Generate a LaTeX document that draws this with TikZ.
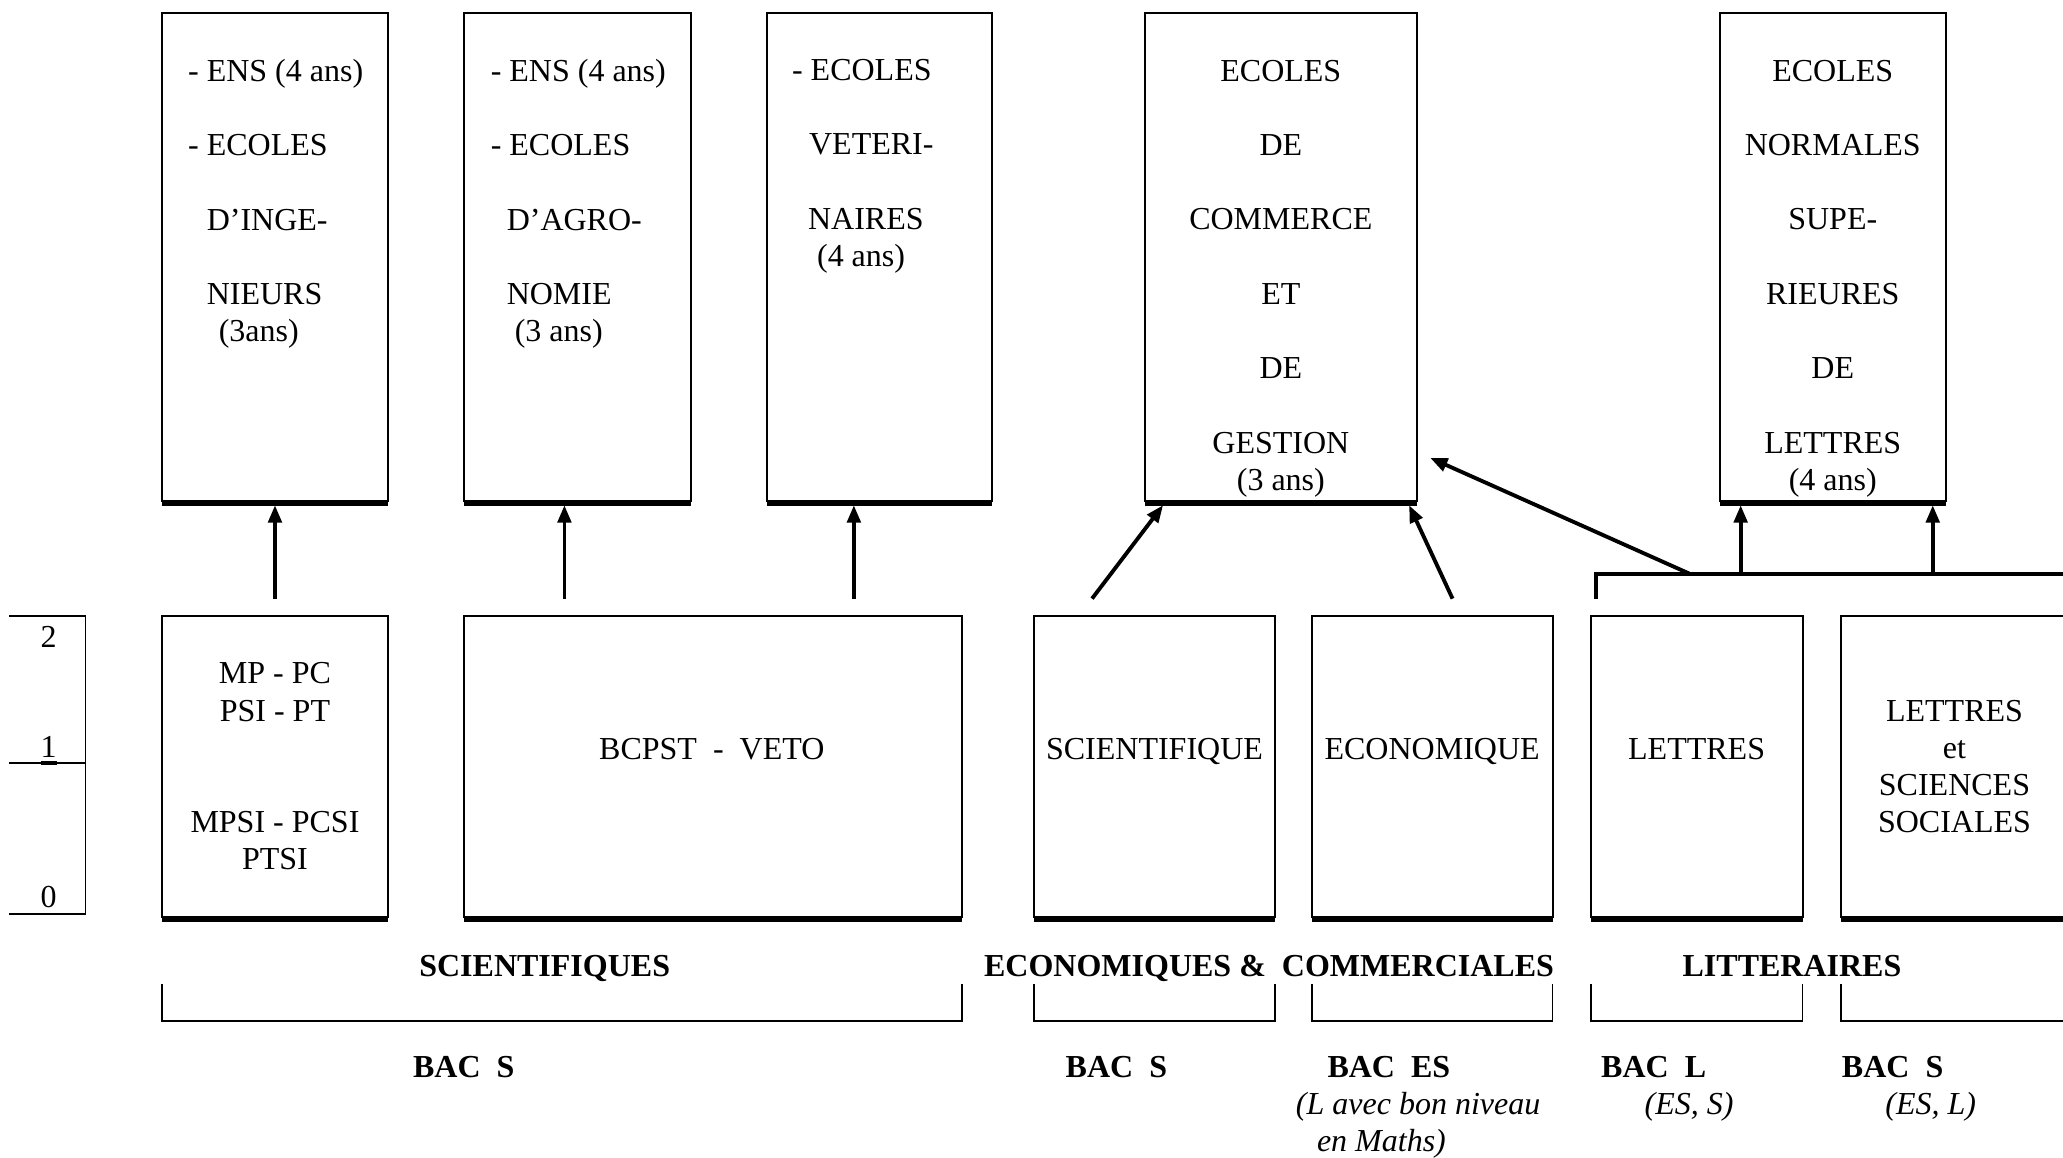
\documentclass[tikz,border=0pt]{standalone}
\usepackage{fontspec}
\setmainfont{Liberation Serif}
\usetikzlibrary{arrows.meta,calc}
\def\UU{0.4934pt}
\begin{document}
\begin{tikzpicture}[x=0.4934pt,y=-0.4934pt,
  every node/.style={font=\fontsize{12}{13.95}\selectfont, inner sep=0pt, outer sep=0pt},
  box/.style={draw, line width=0.75pt},
  thickbot/.style={line width=2.3pt},
  arr/.style={line width=1.45pt, -{Triangle[length=6.5pt,width=5pt]}},
  conn/.style={line width=1.45pt},
  brk/.style={line width=0.7pt},
  scl/.style={line width=0.7pt},
  cat/.style={font=\fontsize{12}{13.95}\selectfont\bfseries, anchor=base},
  bac/.style={font=\fontsize{12}{13.95}\selectfont\bfseries, anchor=base west},
  ital/.style={font=\fontsize{12}{13.95}\selectfont\itshape, anchor=base west},
  txt/.style={anchor=base}]
\useasboundingbox (0,0) rectangle (1568,880);

% ---- top boxes
\node[box, minimum width=172*\UU, minimum height=371*\UU] (t1) at (209,195.5) {};
\node[box, minimum width=172*\UU, minimum height=371*\UU] (t2) at (439,195.5) {};
\node[box, minimum width=171*\UU, minimum height=371*\UU] (t3) at (668.5,195.5) {};
\node[box, minimum width=207*\UU, minimum height=371*\UU] (t4) at (973.5,195.5) {};
\node[box, minimum width=172*\UU, minimum height=371*\UU] (t5) at (1393,195.5) {};

\node[anchor=north west, align=left] (t1txt) at (143,45)
  {- ENS (4 ans)\\[13.95pt]- ECOLES\\[13.95pt]\hspace*{7pt}D’INGE-\\[13.95pt]\hspace*{7pt}NIEURS\\\hspace*{11.5pt}(3ans)};
\node[anchor=north west, align=left] (t2txt) at (373,45)
  {- ENS (4 ans)\\[13.95pt]- ECOLES\\[13.95pt]\hspace*{6pt}D’AGRO-\\[13.95pt]\hspace*{6pt}NOMIE\\\hspace*{9pt}(3 ans)};
\node[anchor=north west, align=left] (t3txt) at (602,45)
  {- ECOLES\\[13.95pt]\hspace*{6.4pt}VETERI-\\[13.95pt]\hspace*{6pt}NAIRES\\\hspace*{9.4pt}(4 ans)};
\node[anchor=north, align=center] (t4txt) at (973.5,45.5)
  {ECOLES\\[13.95pt]DE\\[13.95pt]COMMERCE\\[13.95pt]ET\\[13.95pt]DE\\[13.95pt]GESTION\\(3 ans)};
\node[anchor=north, align=center] (t5txt) at (1393,45.5)
  {ECOLES\\[13.95pt]NORMALES\\[13.95pt]SUPE-\\[13.95pt]RIEURES\\[13.95pt]DE\\[13.95pt]LETTRES\\(4 ans)};

% ---- bottom boxes
\node[box, minimum width=172*\UU, minimum height=229*\UU, align=center] (ba) at (209,582.5)
  {MP - PC\\PSI - PT\\[27.9pt]MPSI - PCSI\\PTSI};
\node[box, minimum width=378*\UU, minimum height=229*\UU] (bb) at (542,582.5) {};
\node[box, minimum width=183*\UU, minimum height=229*\UU] (bc) at (877.5,582.5) {};
\node[box, minimum width=183*\UU, minimum height=229*\UU] (bd) at (1088.5,582.5) {};
\node[box, minimum width=161*\UU, minimum height=229*\UU] (be) at (1289.5,582.5) {};
\node[box, minimum width=173*\UU, minimum height=229*\UU, align=center] (bf) at (1485.5,582.5)
  {LETTRES\\et\\SCIENCES\\SOCIALES};

\node[txt] (bbtxt) at (541,577) {BCPST\ \ -\ \ VETO};
\node[txt] (bctxt) at (877.5,577) {SCIENTIFIQUE};
\node[txt] (bdtxt) at (1088.5,577) {ECONOMIQUE};
\node[txt] (betxt) at (1289.5,577) {LETTRES};

\foreach \n in {t1,t2,t3,t4,t5,ba,bb,bc,bd,be,bf}
  \draw[thickbot] ([yshift=-0.8pt]\n.south west) -- ([yshift=-0.8pt]\n.south east);

% ---- scale
\draw[scl] (7,468) -- (65,468) -- (65,695);
\draw[scl] (7,695) -- (65,695);
\draw[scl] (7,580) -- (65,580);
\draw[line width=1.2pt] (31,580) -- (43,580);
\node[txt] (s2) at (37,492) {2};
\node[txt] (s1) at (37,576) {1};
\node[txt] (s0) at (37,690) {0};

% ---- arrows
\coordinate (a1) at (209,455);
\coordinate (a2) at (429,455);
\coordinate (a3) at (649,455);
\coordinate (a4) at (830,455);
\coordinate (a5) at (1104,455);
\draw[arr] (a1) -- ($(a1 |- t1.south)+(0,3)$);
\draw[arr] (a2) -- ($(a2 |- t2.south)+(0,3)$);
\draw[arr] (a3) -- ($(a3 |- t3.south)+(0,3)$);
\draw[arr] (a4) -- ($(t4.south west)+(14,3)$);
\draw[arr] (a5) -- ($(t4.south east)+(-6,3)$);

\coordinate (lk) at (1213,455);
\coordinate (lj) at (1213,436);
\coordinate (lr) at (1590,436);
\coordinate (lm) at (1284,436);
\coordinate (l1) at (1323,436);
\coordinate (l2) at (1469,436);
\draw[conn] (lk) -- (lj) -- (lr);
\draw[arr] (l1) -- ($(l1 |- t5.south)+(0,3)$);
\draw[arr] (l2) -- ($(l2 |- t5.south)+(0,3)$);
\draw[arr] (lm) -- ($(t4.south east)+(10,-33)$);

% ---- category labels and brackets
\node[cat] (c1) at (414,742) {SCIENTIFIQUES};
\node[cat, anchor=base west] (c2) at (748,742) {ECONOMIQUES \&\ \ COMMERCIALES};
\node[cat] (c3) at (1362,742) {LITTERAIRES};

\draw[brk] (123,748) -- (123,776) -- (731,776) -- (731,748);
\draw[brk] (786,748) -- (786,776) -- (969,776) -- (969,748);
\draw[brk] (997,748) -- (997,776) -- (1180,776) -- (1180,748);
\draw[brk] (1209,748) -- (1209,776) -- (1370,776) -- (1370,748);
\draw[brk] (1399,748) -- (1399,776) -- (1590,776);

% ---- bac labels
\node[bac] (d1) at (314,819) {BAC\ \ S};
\node[bac] (d2) at (810,819) {BAC\ \ S};
\node[bac] (d3) at (1009,819) {BAC\ \ ES};
\node[bac] (d4) at (1217,819) {BAC\ \ L};
\node[bac] (d5) at (1400,819) {BAC\ \ S};
\node[ital] (e1) at (985,847) {(L avec bon niveau};
\node[ital] (e2) at (1001,875) {en Maths)};
\node[ital] (e3) at (1250,847) {(ES, S)};
\node[ital] (e4) at (1433,847) {(ES, L)};
\end{tikzpicture}
\end{document}
